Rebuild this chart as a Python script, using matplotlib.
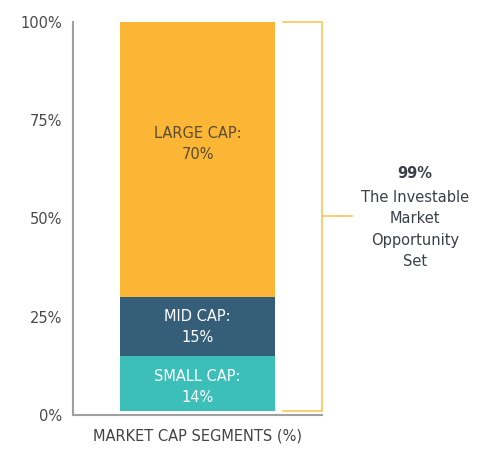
import numpy as np
import matplotlib.pyplot as plt

plt.rcParams['font.family'] = ['DejaVu Sans']

# segments bottom to top (first one is the tiny uncovered slice, drawn white)
segments = ['MICRO CAP', 'SMALL CAP', 'MID CAP', 'LARGE CAP']
values = [1, 14, 15, 70]
colors = ['#ffffff', '#3dbfb9', '#355e78', '#fcb635']
label_colors = [None, '#ffffff', '#ffffff', '#5a4c30']
yticks = [0, 25, 50, 75, 100]
tick_labels = ['0%', '25%', '50%', '75%', '100%']
bracket_total = 99
bracket_text = 'The Investable\nMarket\nOpportunity\nSet'

fig = plt.figure(figsize=(4.94, 4.55), dpi=100)
ax = fig.add_axes([0.148, 0.088, 0.504, 0.864])

# label nudges (in % points) so text sits like the original
label_shift = [0, -0.8, 0, 4]

bottoms = np.concatenate([[0], np.cumsum(values)[:-1]])
for name, v, b, c, lc, sh in zip(segments, values, bottoms, colors, label_colors, label_shift):
    ax.bar(0.5, v, bottom=b, width=0.622, color=c, edgecolor='none')
    if lc is not None:
        ax.text(0.5, b + v / 2 + sh, f'{name}:\n{v}%', ha='center', va='center',
                color=lc, fontsize=10.5, linespacing=1.5)

ax.set_xlim(0, 1)
ax.set_ylim(0, 100)
ax.set_xticks([])
ax.set_yticks(yticks)
ax.set_yticklabels(tick_labels)
ax.tick_params(axis='y', length=0, pad=8, labelsize=10.5, labelcolor='#4a4a4a')
for s in ['top', 'right']:
    ax.spines[s].set_visible(False)
for s in ['left', 'bottom']:
    ax.spines[s].set_color('#a0a0a0')
    ax.spines[s].set_linewidth(1.5)
ax.set_xlabel('MARKET CAP SEGMENTS (%)', fontsize=10.5, color='#444444', labelpad=10)

# bracket spanning the investable part of the bar
top = sum(values)
low = values[0]
bc = '#fcc65a'
ax.plot([0.843, 1.0, 1.0, 0.843], [top, top, low, low], color=bc, lw=1.2,
        clip_on=False, solid_joinstyle='miter')
mid = (top + low) / 2
ax.plot([1.0, 1.12], [mid, mid], color=bc, lw=1.2, clip_on=False)

ax.text(1.373, mid + 11, f'{bracket_total}%', ha='center', va='center',
        fontsize=10.5, fontweight='bold', color='#3a3f47')
ax.text(1.373, mid - 3.3, bracket_text, ha='center', va='center',
        fontsize=10.5, color='#3a3f47', linespacing=1.55)

fig.savefig('out.png', dpi=100)
